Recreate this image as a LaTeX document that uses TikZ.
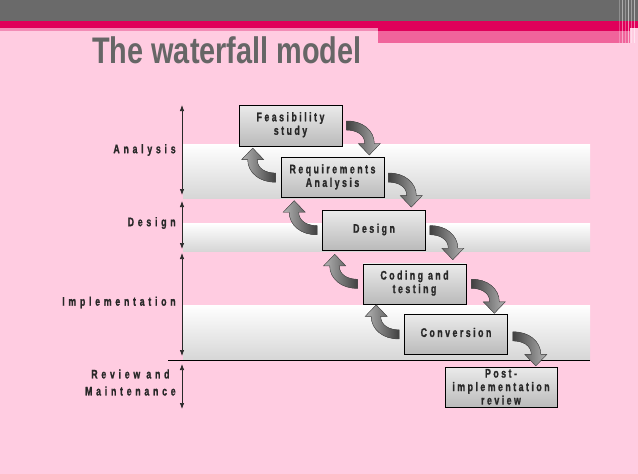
\documentclass[tikz,border=0pt]{standalone}
\usepackage{fontspec}
\setmainfont{Liberation Sans}[FakeStretch=0.78]
\newfontfamily\boxfont{Liberation Sans}[FakeStretch=0.7, LetterSpace=20, FakeBold=1.2]
\newfontfamily\phasefont{Liberation Sans}[FakeStretch=0.7, LetterSpace=30, FakeBold=1.2]
\usetikzlibrary{arrows.meta, positioning}
\definecolor{slidepink}{RGB}{255,204,225}
\definecolor{bargray}{RGB}{106,106,106}
\definecolor{barmagenta}{RGB}{224,0,90}
\definecolor{barpink}{RGB}{240,100,155}
\definecolor{stripepink}{RGB}{242,140,182}
\definecolor{titlegray}{RGB}{102,102,102}
\definecolor{inkgray}{RGB}{40,40,40}

% bent block arrow between two steps (tail at the origin, tip at (23,29))
\tikzset{
  pics/turn/.style={code={
    \filldraw[draw=black!70, line width=0.4pt, #1]
      (0,-4.5) .. controls (16,-5) and (28,5) .. (28,18)
      -- (34,18) -- (23,29.5) -- (12,18) -- (18.5,18)
      .. controls (18.5,9) and (10,4.5) .. (0,4.5) -- cycle;
  }}
}

\begin{document}
\begin{tikzpicture}[
  x=1pt, y=-1pt,
  box/.style={draw=black, line width=0.6pt, top color=black!8, bottom color=black!27,
    minimum width=103pt, minimum height=40pt, align=center, inner sep=2pt, text=inkgray,
    text depth=4pt, font=\boxfont\bfseries\fontsize{12.5}{13.5}\selectfont},
  band/.style={top color=white, bottom color=black!16},
  axis/.style={{Latex[length=6pt,width=4.5pt]}-{Latex[length=6pt,width=4.5pt]}, draw=inkgray, line width=0.7pt},
  phase/.style={anchor=east, align=center, inner sep=0pt, xshift=-6pt, text=inkgray,
    font=\phasefont\bfseries\fontsize{12.5}{17}\selectfont},
  fall/.style={left color=black!75, right color=black!30},
  rise/.style={left color=black!30, right color=black!75}]

\useasboundingbox (0,0) rectangle (638,474);

% --- slide background and header bars
\fill[slidepink] (0,0) rectangle (638,474);
\fill[bargray] (0,0) rectangle (638,21);
\fill[barmagenta] (0,21) rectangle (638,28);
\fill[stripepink] (0,28) rectangle (378,31);
\fill[barmagenta] (378,28) rectangle (630,31);
\fill[barpink] (378,31) rectangle (630,43);
\foreach \x/\o in {619/0.25, 622/0.45, 625/0.3, 628/0.55, 631/0.35, 634/0.5}
  \draw[white, opacity=\o, line width=1pt] (\x,0) -- (\x,43);

\node[anchor=base west, inner sep=0pt, text=titlegray, font=\fontsize{37}{40}\selectfont\bfseries]
  (title) at (92,63) {The waterfall model};

% --- phase bands
\fill[band] (183,144) rectangle (590,198);
\fill[band] (183,223) rectangle (590,251);
\fill[band] (183,305) rectangle (590,360);
\draw[black, line width=0.6pt] (168,360) -- (590,360);

% --- steps, each one down and to the right of the last
\node[box, minimum height=41pt] (feas) at (290.5,125.5) {Feasibility\\study};
\node[box, below=11pt of feas, xshift=42pt] (req) {Requirements\\Analysis};
\node[box, below=12pt of req, xshift=41.5pt] (des) {Design};
\node[box, below=13pt of des, xshift=40.5pt] (code) {Coding and\\testing};
\node[box, below=10pt of code, xshift=41.5pt] (conv) {Conversion};
\node[box, below=12pt of conv, xshift=45pt, minimum width=112pt, text depth=1pt] (post) {Post-\\implementation\\review};

% --- forward arrows (right side) and feedback arrows (left side)
\pic at ([xshift=4pt]feas.east) {turn=fall};
\pic at ([xshift=4pt]req.east) {turn=fall};
\pic at ([xshift=4pt]des.east) {turn=fall};
\pic at ([xshift=5pt]code.east) {turn=fall};
\pic at ([xshift=5pt,yshift=-2pt]conv.east) {turn=fall};
\pic[rotate=180] at ([xshift=-5pt]req.west) {turn=rise};
\pic[rotate=180] at ([xshift=-5pt]des.west) {turn=rise};
\pic[rotate=180] at ([xshift=-5pt]code.west) {turn=rise};
\pic[rotate=180] at ([xshift=-5pt]conv.west) {turn=rise};

% --- phase ranges on the left
\coordinate (antop) at (182,105);
\coordinate (anbot) at (182,195);
\coordinate (detop) at (182,201);
\coordinate (debot) at (182,249);
\coordinate (imtop) at (182,253);
\coordinate (imbot) at (182,356);
\coordinate (retop) at (182,364);
\coordinate (rebot) at (182,409);
\draw[axis] (antop) -- node[phase] (anlbl) {Analysis} (anbot);
\draw[axis] (detop) -- node[phase, yshift=2pt] (delbl) {Design} (debot);
\draw[axis] (imtop) -- node[phase, yshift=2pt] (imlbl) {Implementation} (imbot);
\draw[axis] (retop) -- node[phase, yshift=4pt] (relbl) {Review and\\Maintenance} (rebot);
\end{tikzpicture}
\end{document}
